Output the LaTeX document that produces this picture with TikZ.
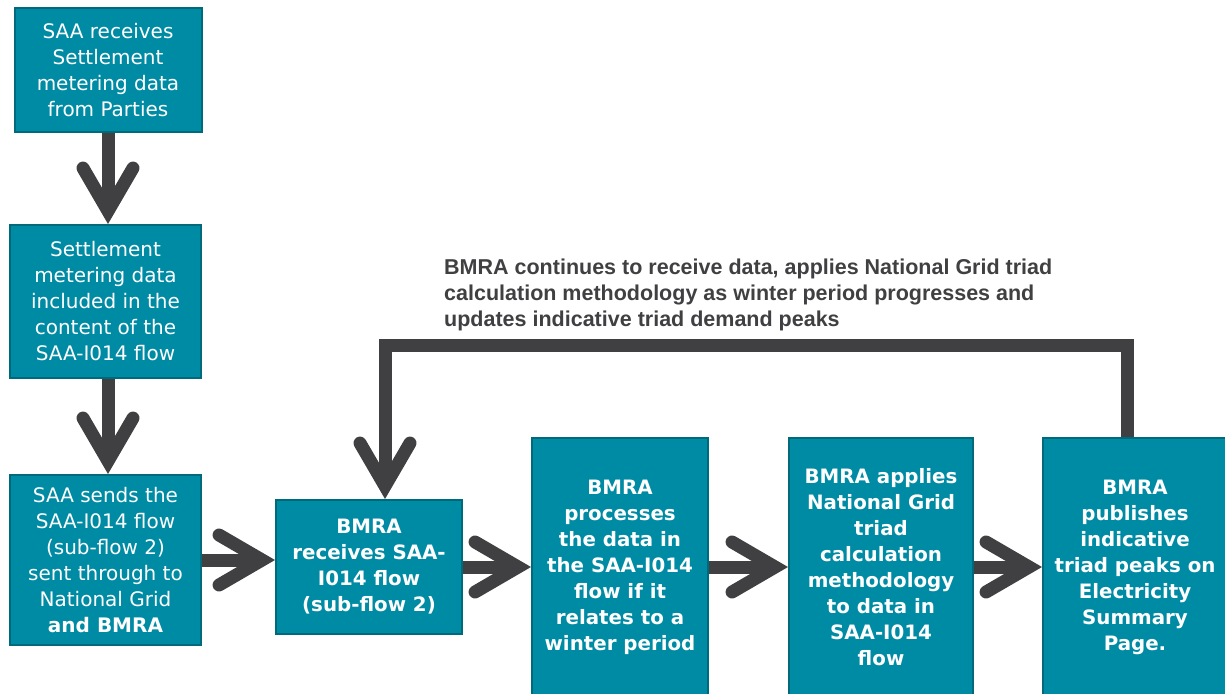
\documentclass[tikz,border=0pt]{standalone}
\usepackage{fontspec}
\setmainfont{DejaVu Sans}
\newfontfamily\notefont{Liberation Sans}
\usetikzlibrary{arrows.meta}
\usetikzlibrary{calc}

\definecolor{boxfill}{RGB}{0,139,165}
\definecolor{boxedge}{RGB}{0,106,125}
\definecolor{flowgray}{RGB}{64,64,66}

\tikzset{
  procbox/.style={draw=boxedge, fill=boxfill, line width=2pt, text=white, align=center,
    inner sep=0pt, font=\fontsize{20}{26}\selectfont},
  boldbox/.style={procbox, font=\fontsize{19.8}{26}\selectfont\bfseries},
  flowarrow/.style={draw=flowgray, line width=13pt,
    -{Straight Barb[length=43pt, width=50pt, line join=miter, line cap=round]}},
}

\begin{document}
\begin{tikzpicture}[x=1pt,y=1pt,yscale=-1,xscale=1]
\clip (0,0) rectangle (1225,693);

%Shape: Rectangle [id:saa_receives]
\node [procbox, minimum width=187, minimum height=124] (recvdata) at (108,70)
  {SAA receives\\Settlement\\metering data\\from Parties};
%Shape: Rectangle [id:saa_content]
\node [procbox, minimum width=191, minimum height=153] (content) at (105.5,301.5)
  {Settlement\\metering data\\included in the\\content of the\\SAA-I014 flow};
%Shape: Rectangle [id:saa_sends]
\node [procbox, minimum width=191, minimum height=170] (sends) at (105.5,560)
  {SAA sends the\\SAA-I014 flow\\(sub-flow 2)\\sent through to\\National Grid\\\textbf{and BMRA}};
%Shape: Rectangle [id:bmra_receives]
\node [boldbox, minimum width=186, minimum height=134] (bmrarecv) at (369,567)
  {BMRA\\receives SAA-\\I014 flow\\(sub-flow 2)};
%Shape: Rectangle [id:bmra_processes]
\node [boldbox, minimum width=176, minimum height=258] (process) at (620,567)
  {BMRA\\processes\\the data in\\the SAA-I014\\flow if it\\relates to a\\winter period};
%Shape: Rectangle [id:bmra_applies]
\node [boldbox, minimum width=184, minimum height=258] (applies) at (881,567)
  {BMRA applies\\National Grid\\triad\\calculation\\methodology\\to data in\\SAA-I014\\flow};
%Shape: Rectangle [id:bmra_publishes]
\node [boldbox, minimum width=184, minimum height=258] (publish) at (1135,567)
  {BMRA\\publishes\\indicative\\triad peaks on\\Electricity\\Summary\\Page.};

%Straight Lines [id:flow_down]
\draw [flowarrow] (recvdata.south) -- (recvdata.south |- content.north);
\draw [flowarrow] (content.south -| recvdata.south) -- (sends.north -| recvdata.south);
%Straight Lines [id:flow_right]
\draw [flowarrow] (sends.east) -- (sends.east -| bmrarecv.west);
\draw [flowarrow] (bmrarecv.east) -- (process.west);
\draw [flowarrow] (process.east) -- (applies.west);
\draw [flowarrow] (applies.east) -- (publish.west);
%Straight Lines [id:flow_back]
\draw [flowarrow] ([xshift=-8pt]publish.north) |- ++(0,-92) -| ([xshift=16pt]bmrarecv.north);

% Text Node
\node [anchor=north west, inner sep=0pt, align=left, text=flowgray,
  font=\notefont\bfseries\fontsize{21.5}{26}\selectfont] (loopnote) at (444,259)
  {BMRA continues to receive data, applies National Grid triad\\
   calculation methodology\ as winter period progresses and\\
   updates indicative triad demand\ peaks};

\end{tikzpicture}
\end{document}
